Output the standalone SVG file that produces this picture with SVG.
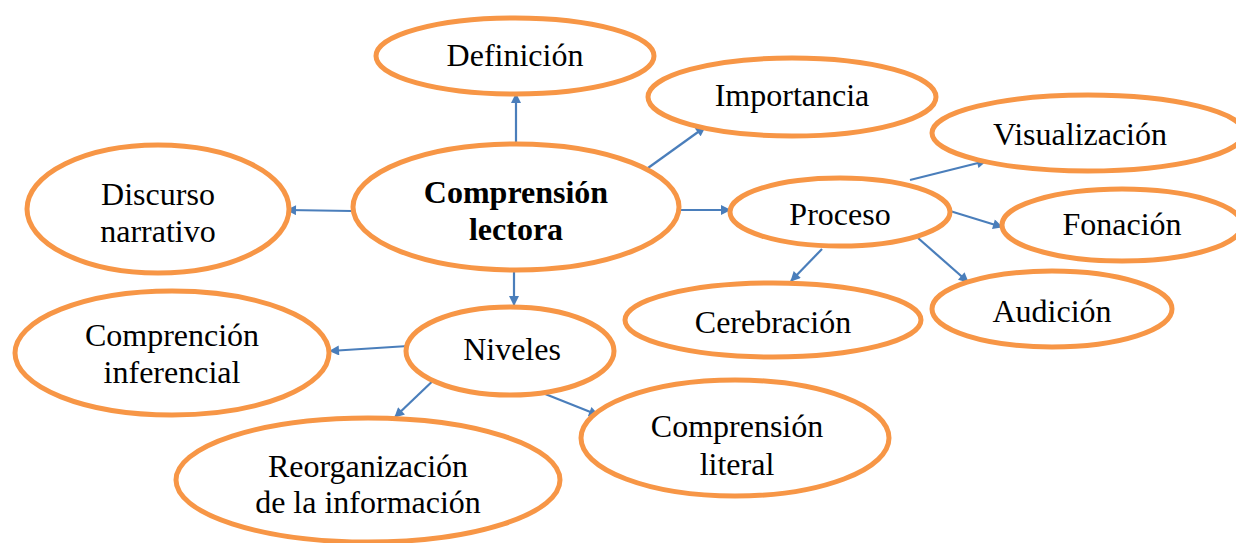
<svg xmlns="http://www.w3.org/2000/svg" width="1236" height="543" viewBox="0 0 1236 543">
<style>
.n ellipse{fill:#fff;stroke:#F79646;stroke-width:5}
#edges line{stroke:#4A7EBB;stroke-width:2.2;marker-end:url(#ah)}
</style>
<defs>
<marker id="ah" viewBox="0 0 10 10" refX="9" refY="5" markerWidth="11" markerHeight="10" orient="auto" markerUnits="userSpaceOnUse">
<path d="M0,0 L10,5 L0,10 z" fill="#4A7EBB"/>
</marker>
<clipPath id="clipC"><rect x="352" y="150" width="330" height="91"/></clipPath>
</defs>
<rect width="1236" height="543" fill="#fff"/>
<g id="edges">
<line x1="516" y1="143" x2="516" y2="94"/>
<line x1="648" y1="168" x2="705" y2="127"/>
<line x1="352" y1="211" x2="287" y2="210"/>
<line x1="678" y1="210" x2="730" y2="210"/>
<line x1="514" y1="270" x2="514" y2="305"/>
<line x1="910" y1="180" x2="986" y2="161"/>
<line x1="950" y1="211" x2="1002" y2="227"/>
<line x1="822" y1="249" x2="791" y2="281"/>
<line x1="918" y1="238" x2="968" y2="282"/>
<line x1="408" y1="346" x2="330" y2="351"/>
<line x1="440" y1="374" x2="395" y2="417"/>
<line x1="520" y1="384" x2="598" y2="415"/>
</g>
<g id="definicion" class="n"><ellipse cx="515" cy="56" rx="139" ry="38"/><text font-family="Liberation Serif" font-size="32" text-anchor="middle" x="515" y="66">Definición</text></g>
<g id="importancia" class="n"><ellipse cx="792" cy="97" rx="144" ry="39"/><text font-family="Liberation Serif" font-size="32" text-anchor="middle" x="792" y="106">Importancia</text></g>
<g id="visualizacion" class="n"><ellipse cx="1088" cy="133" rx="156" ry="38"/><text font-family="Liberation Serif" font-size="32" text-anchor="middle" x="1080" y="145">Visualización</text></g>
<g id="comprension-lectora" class="n"><ellipse cx="516" cy="207" rx="163" ry="63"/><g clip-path="url(#clipC)"><text font-family="Liberation Serif" font-size="32" font-weight="bold" text-anchor="middle" x="516" y="203">Comprensión</text><text font-family="Liberation Serif" font-size="32" font-weight="bold" text-anchor="middle" x="516" y="240">lectora</text></g></g>
<g id="discurso" class="n"><ellipse cx="158" cy="209" rx="131" ry="64"/><text font-family="Liberation Serif" font-size="32" text-anchor="middle" x="158" y="205">Discurso</text><text font-family="Liberation Serif" font-size="32" text-anchor="middle" x="158" y="242">narrativo</text></g>
<g id="proceso" class="n"><ellipse cx="840" cy="212" rx="110" ry="34"/><text font-family="Liberation Serif" font-size="32" text-anchor="middle" x="840" y="225">Proceso</text></g>
<g id="fonacion" class="n"><ellipse cx="1122" cy="225" rx="120" ry="36"/><text font-family="Liberation Serif" font-size="32" text-anchor="middle" x="1122" y="235">Fonación</text></g>
<g id="cerebracion" class="n"><ellipse cx="773" cy="320" rx="148" ry="37"/><text font-family="Liberation Serif" font-size="32" text-anchor="middle" x="773" y="333">Cerebración</text></g>
<g id="audicion" class="n"><ellipse cx="1052" cy="309" rx="120" ry="38"/><text font-family="Liberation Serif" font-size="32" text-anchor="middle" x="1052" y="322">Audición</text></g>
<g id="niveles" class="n"><ellipse cx="510" cy="351" rx="104" ry="44"/><text font-family="Liberation Serif" font-size="32" text-anchor="middle" x="512" y="360">Niveles</text></g>
<g id="inferencial" class="n"><ellipse cx="172" cy="353" rx="157" ry="62"/><text font-family="Liberation Serif" font-size="32" text-anchor="middle" x="172" y="346">Comprención</text><text font-family="Liberation Serif" font-size="32" text-anchor="middle" x="172" y="383">inferencial</text></g>
<g id="reorganizacion" class="n"><ellipse cx="368" cy="480" rx="192" ry="62"/><text font-family="Liberation Serif" font-size="32" text-anchor="middle" x="368" y="477">Reorganización</text><text font-family="Liberation Serif" font-size="32" text-anchor="middle" x="368" y="513">de la información</text></g>
<g id="literal" class="n"><ellipse cx="735" cy="438" rx="154" ry="58"/><text font-family="Liberation Serif" font-size="32" text-anchor="middle" x="737" y="437">Comprensión</text><text font-family="Liberation Serif" font-size="32" text-anchor="middle" x="737" y="475">literal</text></g>
</svg>
